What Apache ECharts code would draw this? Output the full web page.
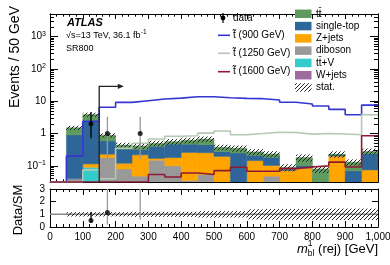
<!DOCTYPE html>
<html><head><meta charset="utf-8">
<script src="https://cdn.jsdelivr.net/npm/echarts@6/dist/echarts.min.js"></script>
<style>html,body{margin:0;padding:0;background:#fff}#c{width:390px;height:265px}</style>
</head><body><div id="c"></div>
<script>
// ---------------- data ----------------
const binStart = [0,50,100,150,200,250,300,350,400,450,500,550,600,650,700,750,800,850,900,950];
const binWidth = 50;
const wjets     = [0,0,0,0,0,0,0,0,0,0,0,0,0,0,0,0,0,0,0,0];
const ttv       = [0,0,0.09,0.034,0,0,0,0,0,0,0,0,0,0,0,0,0,0,0,0];
const diboson   = [0,0.04,0,0.145,0.08,0.048,0.15,0.10,0.035,0.054,0,0,0,0.048,0,0,0,0,0,0];
const zjets     = [0,0,0.025,0.05,0.04,0.172,0.02,0.08,0.225,0.2,0.196,0,0.145,0.055,0.072,0.085,0,0.2,0,0.075];
const singletop = [0,0.87,2.24,0.36,0.21,0.10,0.23,0.29,0.21,0.2,0.08,0.25,0.065,0.08,0.006,0.017,0,0.02,0.07,0.16];
const ttbar     = [0,0.6,1.5,0.3,0.11,0.09,0.10,0.09,0.15,0.22,0.1,0.1,0.06,0.05,0.012,0.078,0.08,0.01,0.06,0.045];
const statRel   = [0,0.15,0.15,0.15,0.18,0.2,0.2,0.2,0.2,0.2,0.2,0.22,0.22,0.22,0.25,0.25,0.25,0.22,0.22,0.22];
const sig900    = [0,0.2,2.4,6.5,9.2,10.4,11.7,12.5,13.7,13.7,12.8,12.3,12.0,10.9,9.3,8.2,7.1,5.6,3.8,7.6];
const sig1250   = [0,0,0.075,0.04,0.35,0.5,0.68,0.82,0.85,1.03,1.2,0.92,1.0,1.1,1.08,0.96,1.0,0.97,0.92,3.8];
const sig1600   = [0,0,0,0,0,0,0.054,0.045,0.06,0.054,0.071,0.09,0.068,0.068,0.082,0.092,0.1,0.13,0.092,0.85];
const dataX     = [125,175,275];
const dataY     = [2,1,1];
const dataLo    = [0.71,0.17,0.17];
const dataHi    = [4.64,3.3,3.3];
const ratioY    = [0.52,1.15,3.4];
const ratioLo   = [0.32,0.18,0.6];
const ratioHi   = [1.18,3.6,9];
const ratioBand = [0,0.17,0.17,0.17,0.17,0.2,0.2,0.2,0.2,0.25,0.25,0.25,0.4,0.42,0.42,0.42,0.45,0.45,0.45,0.45];
const cut       = {x:150, y:29, tip:225};

// --------------- style ----------------
const FONT = '"Liberation Sans", Arial, Helvetica, sans-serif';
const yMin = Math.pow(10,-1.5), yMax = Math.pow(10,3.7);
const errColors = ['#000','#9a9a9a','#9a9a9a'];
const C = {tt:'#5f9a5f', st:'#2f6699', z:'#ffa500', db:'#999999', ttv:'#33cccc', w:'#9c6ca0',
           s900:'#3535d4', s1250:'#b3c9b3', s1600:'#8e1b33'};

function hatchCanvas(){
  const c=document.createElement('canvas'); c.width=4; c.height=4;
  const g=c.getContext('2d'); g.strokeStyle='#222'; g.lineWidth=1;
  g.beginPath(); g.moveTo(0,4); g.lineTo(4,0); g.moveTo(-1,1); g.lineTo(1,-1); g.moveTo(3,5); g.lineTo(5,3); g.stroke();
  return c;
}
const HATCH = {image: hatchCanvas(), repeat:'repeat'};

const yMajor=[0.1,1,10,100,1000];
const yMinor=[];
for(let e=-2;e<=3;e++) for(let k=2;k<=9;k++){const v=k*Math.pow(10,e); if(v>yMin*1.0001&&v<yMax) yMinor.push(v);}

function rectRender(fill, stroke){
  return function(params, api){
    const x0=api.value(0), lo=Math.max(api.value(1),yMin), hi=api.value(2);
    const p1=api.coord([x0,hi]), p2=api.coord([x0+binWidth,lo]);
    return {type:'rect', shape:{x:p1[0],y:p1[1],width:p2[0]-p1[0],height:p2[1]-p1[1]},
      style: stroke? {fill:fill, stroke:fill, lineWidth:0.5}:{fill:fill}};
  };
}
const series=[];
const layers=[['W+jets',wjets,C.w],['ttV',ttv,C.ttv],['diboson',diboson,C.db],['Z+jets',zjets,C.z],['single-top',singletop,C.st],['ttbar',ttbar,C.tt]];
const cum=binStart.map(()=>0);
layers.forEach(([name,vals,col])=>{
  const d=[];
  binStart.forEach((x,i)=>{const lo=cum[i]; cum[i]+=vals[i]; if(vals[i]>0 && cum[i]>yMin) d.push([x,Math.max(lo,yMin),cum[i]]);});
  series.push({type:'custom',name,xAxisIndex:0,yAxisIndex:0,data:d,renderItem:rectRender(col,true),clip:true,z:2,silent:true});
});
series.push({type:'custom',name:'stat.',xAxisIndex:0,yAxisIndex:0,clip:true,z:3,silent:true,
  data:binStart.map((x,i)=>[x,cum[i]*(1-statRel[i]),cum[i]*(1+statRel[i])]).filter((r,i)=>cum[i]>0),
  renderItem:rectRender(HATCH,false)});
function stepData(arr){const d=binStart.map((x,i)=>[x,Math.max(arr[i],yMin)]); d.push([binStart[binStart.length-1]+binWidth,Math.max(arr[arr.length-1],yMin)]); return d;}
[['900',sig900,C.s900],['1250',sig1250,C.s1250],['1600',sig1600,C.s1600]].forEach(([n,a,c])=>{
  series.push({type:'line',name:n,xAxisIndex:0,yAxisIndex:0,step:'end',data:stepData(a),symbol:'none',clip:true,
    lineStyle:{color:c,width:1.6},z:4,silent:true});
});
series.push({type:'custom',name:'cut',xAxisIndex:0,yAxisIndex:0,clip:true,z:5,silent:true,data:[[cut.x,cut.y,cut.tip]],
  renderItem:function(p,api){
    const b=api.coord([api.value(0),yMin]), t=api.coord([api.value(0),api.value(1)]), e=api.coord([api.value(2),api.value(1)]);
    return {type:'group',children:[
      {type:'polyline',shape:{points:[b,t,[e[0]-5,e[1]]]},style:{stroke:'#222',lineWidth:1.3,fill:null}},
      {type:'polygon',shape:{points:[[e[0],e[1]],[e[0]-6,e[1]-2.6],[e[0]-6,e[1]+2.6]]},style:{fill:'#222'}}]};
  }});
function errRender(p,api){
  const a=api.coord([api.value(0),api.value(1)]), b=api.coord([api.value(0),api.value(2)]);
  return {type:'line',shape:{x1:a[0],y1:a[1],x2:b[0],y2:b[1]},style:{stroke:errColors[p.dataIndex],lineWidth:1.3}};
}
series.push({type:'custom',name:'dataErr',xAxisIndex:0,yAxisIndex:0,clip:true,z:6,silent:true,
  data:dataX.map((x,i)=>[x,dataLo[i],dataHi[i]]),renderItem:errRender});
series.push({type:'scatter',name:'data',xAxisIndex:0,yAxisIndex:0,z:7,symbolSize:5,itemStyle:{color:'#000'},
  data:dataX.map((x,i)=>[x,dataY[i]]),silent:true});
series.push({type:'line',name:'one',xAxisIndex:1,yAxisIndex:4,data:[[0,1],[1000,1]],symbol:'none',
  lineStyle:{color:'#8a8a8a',width:1.5},z:2,silent:true});
series.push({type:'custom',name:'ratioBand',xAxisIndex:1,yAxisIndex:4,clip:true,z:3,silent:true,
  data:binStart.map((x,i)=>[x,1-ratioBand[i],1+ratioBand[i]]).filter((r,i)=>ratioBand[i]>0),
  renderItem:function(p,api){
    const p1=api.coord([api.value(0),api.value(2)]), p2=api.coord([api.value(0)+binWidth,api.value(1)]);
    return {type:'rect',shape:{x:p1[0],y:p1[1],width:p2[0]-p1[0],height:p2[1]-p1[1]},style:{fill:HATCH}};
  }});
series.push({type:'custom',name:'ratioErr',xAxisIndex:1,yAxisIndex:4,clip:true,z:6,silent:true,
  data:dataX.map((x,i)=>[x,ratioLo[i],ratioHi[i]]),renderItem:errRender});
series.push({type:'scatter',name:'ratio',xAxisIndex:1,yAxisIndex:4,z:7,symbolSize:5,itemStyle:{color:'#000'},clip:true,
  data:dataX.map((x,i)=>[x,ratioY[i]]),silent:true});

// ---------------- axes ----------------
function xAx(grid,pos,showLabel,maj,min){
  return {type:'value',gridIndex:grid,position:pos,min:0,max:1000,interval:100,
    axisLine:{show:true,onZero:false,lineStyle:{color:'#000',width:1}},
    axisTick:{show:true,inside:true,length:maj,lineStyle:{color:'#000'}},
    minorTick:{show:true,splitNumber:5,length:min,lineStyle:{color:'#000'}},
    splitLine:{show:false},minorSplitLine:{show:false},
    axisLabel:{show:showLabel,margin:5,fontSize:10,color:'#000',fontFamily:FONT,showMinLabel:true,showMaxLabel:true}};
}
function supLabel(v){const e=Math.round(Math.log10(v)); if(e===0) return '1'; if(e===1) return '10'; return '10{s|'+(e<0?'\u2212'+(-e):e)+'}';}
function yLog(pos,vals,len,showLabel){
  return {type:'log',gridIndex:0,position:pos,min:yMin,max:yMax,logBase:10,
    axisLine:{show:true,onZero:false,lineStyle:{color:'#000'}},
    axisTick:{show:true,inside:true,length:len,customValues:vals,lineStyle:{color:'#000'}},
    axisLabel:{show:showLabel,customValues:vals,margin:4,fontSize:10,color:'#000',fontFamily:FONT,lineHeight:12,
      formatter:supLabel,rich:{s:{fontSize:7,lineHeight:7,verticalAlign:'top',fontFamily:FONT,color:'#000'}}},
    splitLine:{show:false},minorTick:{show:false}};
}
function yRat(pos,showLabel){
  return {type:'value',gridIndex:1,position:pos,min:0,max:3,interval:1,
    axisLine:{show:true,onZero:false,lineStyle:{color:'#000'}},
    axisTick:{show:true,inside:true,length:6,lineStyle:{color:'#000'}},
    minorTick:{show:false},splitLine:{show:false},
    axisLabel:{show:showLabel,margin:5,fontSize:10,color:'#000',fontFamily:FONT}};
}

const mctx=document.createElement('canvas').getContext('2d');
function tw(s,font){mctx.font=font;return mctx.measureText(s).width;}
function T(x,y,text,font,opt){opt=opt||{};return {type:'text',x:x,y:y,rotation:opt.rot||0,z:20,silent:true,
  style:{text:text,font:font,fill:opt.fill||'#000',textAlign:opt.align||'left',textVerticalAlign:opt.va||'middle',
  align:opt.align||'left',verticalAlign:opt.va||'middle'}};}

const F10='10px '+FONT, F9='9px '+FONT, F13='13px '+FONT, F14='14px '+FONT;
const g=[];
g.push(T(67,22.5,'ATLAS','italic bold 11px '+FONT));
const sqrtTxt='\u221As=13 TeV, 36.1 fb';
g.push(T(66,35.5,sqrtTxt,F9));
g.push(T(66+tw(sqrtTxt,F9)+0.3,32.5,'-1','6.5px '+FONT));
g.push(T(66,48.5,'SR800',F9));
g.push(T(15,57,'Events / 50 GeV',F14,{rot:Math.PI/2,align:'center'}));
g.push(T(18,210,'Data/SM',F13,{rot:Math.PI/2,align:'center'}));
const xR=378, xB=249;
const restTxt=' (rej) [GeV]';
const wRest=tw(restTxt,F13), wSub=tw('bl','8.5px '+FONT), wM=tw('m','italic 13px '+FONT);
const xSub=xR-wRest-wSub;
g.push(T(xR,xB,restTxt,F13,{align:'right'}));
g.push(T(xSub,xB+4.5,'bl','8.5px '+FONT));
g.push(T(xSub,xB-5.5,'1','8.5px '+FONT));
g.push(T(xSub-wM,xB,'m','italic 13px '+FONT));
const legL=[['data',null,18],['t\u0303 (900 GeV)',C.s900,35.3],['t\u0303 (1250 GeV)',C.s1250,53.3],['t\u0303 (1600 GeV)',C.s1600,71.7]];
legL.forEach(([txt,col,y])=>{
  if(col===null){
    g.push({type:'line',z:20,shape:{x1:223,y1:y-5,x2:223,y2:y+5},style:{stroke:'#000',lineWidth:1.2}});
    g.push({type:'circle',z:21,shape:{cx:223,cy:y,r:2.4},style:{fill:'#000'}});
  } else {
    g.push({type:'line',z:20,shape:{x1:218,y1:y,x2:230,y2:y},style:{stroke:col,lineWidth:1.6}});
  }
  g.push(T(233,y,txt,F10));
});
const legR=[['tt\u0304',C.tt],['single-top',C.st],['Z+jets',C.z],['diboson',C.db],['tt\u0304+V',C.ttv],['W+jets',C.w],['stat.',HATCH]];
legR.forEach(([txt,col],i)=>{
  const y=13.8+12.28*i;
  g.push({type:'rect',z:20,shape:{x:295,y:y-4.25,width:16.5,height:8.5},style:{fill:col}});
  g.push(T(316,y,txt,F10));
});

const option={
  animation:false,
  backgroundColor:'#fff',
  grid:[{left:50,top:14,width:328,height:168,containLabel:false,outerBoundsMode:'none'},
        {left:50,top:189,width:328,height:38,containLabel:false,outerBoundsMode:'none'}],
  xAxis:[xAx(0,'bottom',false,5,2.7), xAx(1,'bottom',true,6,3), xAx(0,'top',false,5,2.7), xAx(1,'top',false,6,3)],
  yAxis:[yLog('left',yMajor,8,true), yLog('left',yMinor,4,false), yLog('right',yMajor,8,false), yLog('right',yMinor,4,false),
         yRat('left',true), yRat('right',false)],
  series:series,
  graphic:{elements:g}
};
const chart=echarts.init(document.getElementById('c'),null,{renderer:'canvas'});
chart.setOption(option);
</script></body></html>
